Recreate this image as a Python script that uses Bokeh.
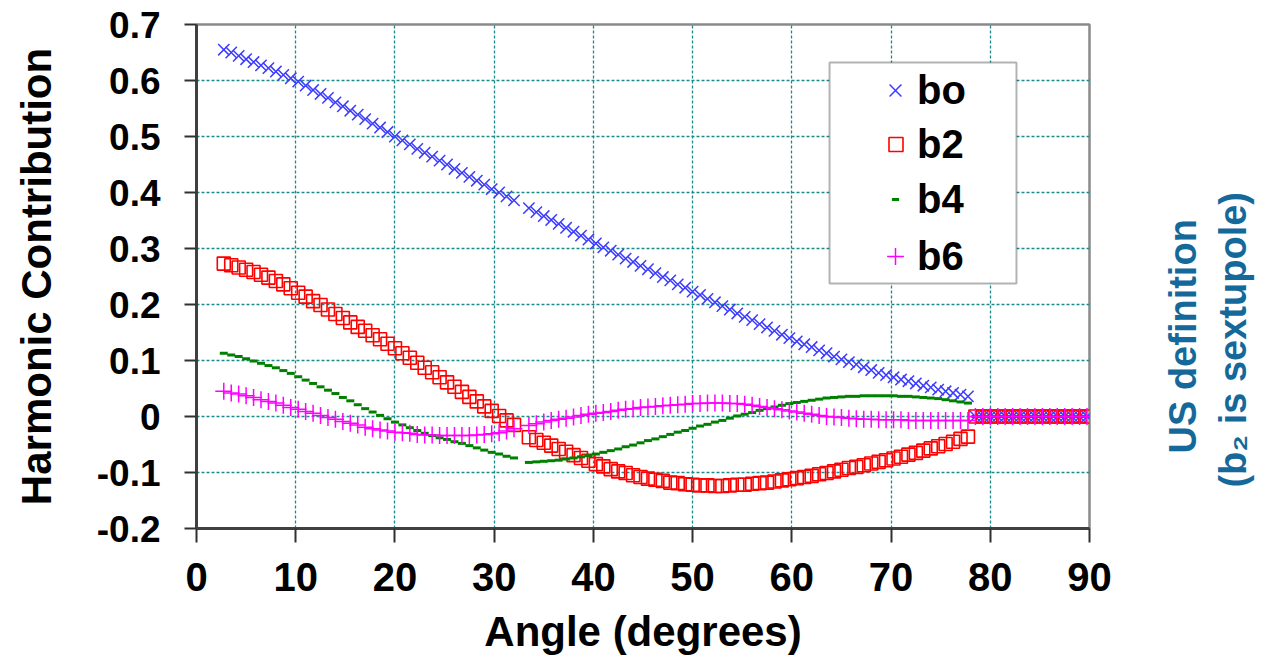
import math
from bokeh.plotting import figure
from bokeh.models import (Range1d, FixedTicker, Legend, LegendItem, BoxAnnotation,
                          LinearAxis, ColumnDataSource)
from bokeh.embed import file_html
from bokeh.resources import INLINE

# ---------------- data ----------------
angle = [
    2.75, 3.5, 4.25, 5.0, 5.75, 6.5, 7.25, 8.0, 8.75, 9.5,
    10.25, 11.0, 11.75, 12.5, 13.25, 14.0, 14.75, 15.5, 16.25, 17.0,
    17.75, 18.5, 19.25, 20.0, 20.75, 21.5, 22.25, 23.0, 23.75, 24.5,
    25.25, 26.0, 26.75, 27.5, 28.25, 29.0, 29.75, 30.5, 31.25, 32.0,
    33.5, 34.25, 35.0, 35.75, 36.5, 37.25, 38.0, 38.75, 39.5, 40.25,
    41.0, 41.75, 42.5, 43.25, 44.0, 44.75, 45.5, 46.25, 47.0, 47.75,
    48.5, 49.25, 50.0, 50.75, 51.5, 52.25, 53.0, 53.75, 54.5, 55.25,
    56.0, 56.75, 57.5, 58.25, 59.0, 59.75, 60.5, 61.25, 62.0, 62.75,
    63.5, 64.25, 65.0, 65.75, 66.5, 67.25, 68.0, 68.75, 69.5, 70.25,
    71.0, 71.75, 72.5, 73.25, 74.0, 74.75, 75.5, 76.25, 77.0, 77.75,
    78.5, 79.25, 80.0, 80.75, 81.5, 82.25, 83.0, 83.75, 84.5, 85.25,
    86.0, 86.75, 87.5, 88.25, 89.0, 89.75,
]

bo = [
    0.655, 0.650, 0.644, 0.638, 0.633, 0.627, 0.622, 0.616, 0.610, 0.604,
    0.598, 0.591, 0.583, 0.576, 0.569, 0.561, 0.554, 0.546, 0.539, 0.531,
    0.523, 0.516, 0.508, 0.500, 0.493, 0.486, 0.478, 0.471, 0.464, 0.457,
    0.450, 0.442, 0.435, 0.428, 0.421, 0.414, 0.406, 0.400, 0.393, 0.386,
    0.372, 0.365, 0.358, 0.351, 0.344, 0.337, 0.330, 0.323, 0.316, 0.309,
    0.302, 0.296, 0.289, 0.282, 0.276, 0.269, 0.263, 0.256, 0.249, 0.243,
    0.236, 0.230, 0.223, 0.217, 0.210, 0.204, 0.197, 0.191, 0.184, 0.178,
    0.172, 0.165, 0.159, 0.153, 0.146, 0.140, 0.134, 0.129, 0.124, 0.118,
    0.113, 0.107, 0.102, 0.097, 0.093, 0.088, 0.083, 0.078, 0.074, 0.070,
    0.066, 0.063, 0.059, 0.055, 0.052, 0.048, 0.045, 0.042, 0.039, 0.036,
    0, 0, 0, 0, 0, 0, 0, 0, 0, 0, 0, 0, 0, 0, 0, 0,
]

b2 = [
    0.273, 0.270, 0.266, 0.262, 0.258, 0.253, 0.248, 0.242, 0.236, 0.229,
    0.221, 0.214, 0.206, 0.199, 0.191, 0.183, 0.176, 0.168, 0.160, 0.153,
    0.145, 0.138, 0.130, 0.122, 0.113, 0.105, 0.096, 0.087, 0.079, 0.070,
    0.061, 0.053, 0.044, 0.035, 0.027, 0.018, 0.010, 0.001, -0.007, -0.015,
    -0.037, -0.042, -0.047, -0.052, -0.058, -0.063, -0.069, -0.074, -0.079, -0.085,
    -0.089, -0.094, -0.098, -0.101, -0.105, -0.108, -0.111, -0.113, -0.115, -0.118,
    -0.119, -0.121, -0.122, -0.123, -0.123, -0.124, -0.124, -0.123, -0.122, -0.122,
    -0.120, -0.119, -0.118, -0.116, -0.114, -0.112, -0.110, -0.108, -0.106, -0.103,
    -0.101, -0.098, -0.095, -0.092, -0.090, -0.087, -0.084, -0.081, -0.078, -0.075,
    -0.072, -0.068, -0.065, -0.061, -0.057, -0.053, -0.049, -0.045, -0.040, -0.036,
    0, 0, 0, 0, 0, 0, 0, 0, 0, 0, 0, 0, 0, 0, 0, 0,
]

b4 = [
    0.113, 0.110, 0.107, 0.103, 0.099, 0.095, 0.091, 0.087, 0.082, 0.077,
    0.071, 0.065, 0.059, 0.053, 0.047, 0.041, 0.034, 0.028, 0.021, 0.014,
    0.008, 0.002, -0.004, -0.010, -0.015, -0.020, -0.025, -0.030, -0.034, -0.038,
    -0.041, -0.045, -0.048, -0.052, -0.056, -0.060, -0.064, -0.067, -0.071, -0.074,
    -0.082, -0.081, -0.080, -0.079, -0.078, -0.076, -0.074, -0.072, -0.070, -0.067,
    -0.064, -0.061, -0.058, -0.054, -0.051, -0.047, -0.043, -0.040, -0.036, -0.032,
    -0.028, -0.025, -0.021, -0.017, -0.014, -0.010, -0.007, -0.003, 0.001, 0.004,
    0.007, 0.011, 0.014, 0.017, 0.020, 0.023, 0.025, 0.027, 0.029, 0.031,
    0.033, 0.034, 0.035, 0.036, 0.036, 0.037, 0.037, 0.037, 0.037, 0.037,
    0.036, 0.036, 0.035, 0.034, 0.033, 0.032, 0.030, 0.028, 0.026, 0.024,
    0, 0, 0, 0, 0, 0, 0, 0, 0, 0, 0, 0, 0, 0, 0, 0,
]

b6 = [
    0.045, 0.042, 0.040, 0.037, 0.034, 0.030, 0.027, 0.024, 0.020, 0.016,
    0.013, 0.009, 0.006, 0.002, -0.002, -0.005, -0.009, -0.012, -0.015, -0.019,
    -0.022, -0.024, -0.026, -0.028, -0.029, -0.030, -0.032, -0.033, -0.033, -0.034,
    -0.034, -0.034, -0.034, -0.034, -0.033, -0.032, -0.031, -0.029, -0.026, -0.022,
    -0.016, -0.013, -0.010, -0.007, -0.005, -0.003, -0.001, 0.002, 0.004, 0.006,
    0.007, 0.009, 0.011, 0.013, 0.014, 0.016, 0.017, 0.018, 0.019, 0.020,
    0.021, 0.022, 0.023, 0.023, 0.024, 0.024, 0.024, 0.023, 0.023, 0.022,
    0.020, 0.018, 0.016, 0.014, 0.012, 0.010, 0.008, 0.006, 0.004, 0.002,
    0.000, -0.001, -0.002, -0.003, -0.004, -0.005, -0.005, -0.006, -0.006, -0.006,
    -0.006, -0.007, -0.007, -0.007, -0.007, -0.007, -0.007, -0.007, -0.007, -0.007,
    0, 0, 0, 0, 0, 0, 0, 0, 0, 0, 0, 0, 0, 0, 0, 0,
]

series_labels = ["bo", "b2", "b4", "b6"]
x_ticks = [0, 10, 20, 30, 40, 50, 60, 70, 80, 90]
y_ticks = [-0.2, -0.1, 0, 0.1, 0.2, 0.3, 0.4, 0.5, 0.6, 0.7]
y_tick_labels = ["-0.2", "-0.1", "0", "0.1", "0.2", "0.3", "0.4", "0.5", "0.6", "0.7"]
x_title = "Angle (degrees)"
y_title = "Harmonic Contribution"
note_lines = ["US definition", "(b\u2082 is sextupole)"]

# ---------------- figure ----------------
FONT = "Liberation Sans"
source = ColumnDataSource(dict(angle=angle, bo=bo, b2=b2, b4=b4, b6=b6))

p = figure(width=1281, height=659,
           min_border_left=196, min_border_right=192,
           min_border_top=24, min_border_bottom=131,
           x_range=Range1d(0, 90), y_range=Range1d(-0.2, 0.7),
           output_backend="svg", toolbar_location=None,
           background_fill_color="white", border_fill_color="white")

p.outline_line_color = "#8a8a8a"
p.outline_line_width = 2.5

for g in (p.xgrid[0], p.ygrid[0]):
    g.grid_line_color = "#1d8a8a"
    g.grid_line_dash = "3 2"
    g.grid_line_width = 1.3

p.xaxis.ticker = FixedTicker(ticks=x_ticks)
p.yaxis.ticker = FixedTicker(ticks=y_ticks)
p.yaxis.major_label_overrides = dict(zip(y_ticks, y_tick_labels))

for ax in (p.xaxis[0], p.yaxis[0]):
    ax.axis_line_color = "#404040"
    ax.axis_line_width = 3
    ax.major_tick_line_color = "#303030"
    ax.major_tick_line_width = 2
    ax.major_tick_in = 0
    ax.minor_tick_line_color = None
    ax.major_label_text_font = FONT
    ax.major_label_text_font_style = "bold"
    ax.major_label_text_color = "black"
    ax.axis_label_text_font = FONT
    ax.axis_label_text_font_style = "bold"
    ax.axis_label_text_color = "black"
    ax.axis_label_text_font_size = "42px"

p.xaxis.major_tick_out = 14
p.yaxis.major_tick_out = 12
p.xaxis.major_label_text_font_size = "40px"
p.yaxis.major_label_text_font_size = "37px"
p.xaxis.major_label_standoff = 20
p.yaxis.major_label_standoff = 24
p.xaxis.axis_label = x_title
p.yaxis.axis_label = y_title
p.xaxis.axis_label_standoff = 14
p.yaxis.axis_label_standoff = 34

# side note on the right, drawn as label of bare right-hand axes (one per line);
# the rotated label starts at its tick, so the tick sits at the lower end of the text
for txt, note_y, standoff in zip(note_lines, [-0.066, -0.127], [94, 5]):
    ax = LinearAxis(ticker=FixedTicker(ticks=[note_y]),
                    major_label_overrides={note_y: txt},
                    major_label_orientation=math.pi / 2,
                    major_label_standoff=standoff,
                    major_tick_in=0, major_tick_out=0,
                    major_tick_line_color=None, minor_tick_line_color=None,
                    axis_line_color=None,
                    major_label_text_font=FONT, major_label_text_font_style="bold",
                    major_label_text_font_size="38px",
                    major_label_text_color="#15699A")
    p.add_layout(ax, "right")

r_bo = p.scatter(x="angle", y="bo", source=source, marker="x", size=16,
                 line_color="#3c3cff", line_width=1.5)
r_b2 = p.scatter(x="angle", y="b2", source=source, marker="square", size=13,
                 fill_color=None, line_color="#FF0000", line_width=1.6)
r_b4 = p.scatter(x="angle", y="b4", source=source, marker="dash", size=8,
                 line_color="#008000", line_width=3)
r_b6 = p.scatter(x="angle", y="b6", source=source, marker="cross", size=17,
                 line_color="#FF00FF", line_width=1.5)

# legend frame
box = BoxAnnotation(left=63.8, right=82.64, top=0.632, bottom=0.2375,
                    fill_color="white", fill_alpha=1.0,
                    line_color="black", line_width=2)
p.add_layout(box)

# one legend per entry so each key glyph gets its own size
glyph_widths = [42, 35, 18, 42]
row_centers = [90, 144, 199, 256]
for lab, r, gw, cy in zip(series_labels, [r_bo, r_b2, r_b4, r_b6], glyph_widths, row_centers):
    lg = Legend(items=[LegendItem(label=lab, renderers=[r])],
                location=(round(895 - gw / 2 - 196), 528 - (cy + 23)),
                orientation="vertical", padding=0, margin=0, spacing=0,
                glyph_width=gw, glyph_height=46, label_height=46,
                label_standoff=round(22 - gw / 2),
                label_text_font=FONT, label_text_font_style="bold",
                label_text_font_size="40px", label_text_color="black",
                border_line_color=None, background_fill_alpha=0)
    p.add_layout(lg)

open("out.html", "w").write(file_html(p, INLINE))
